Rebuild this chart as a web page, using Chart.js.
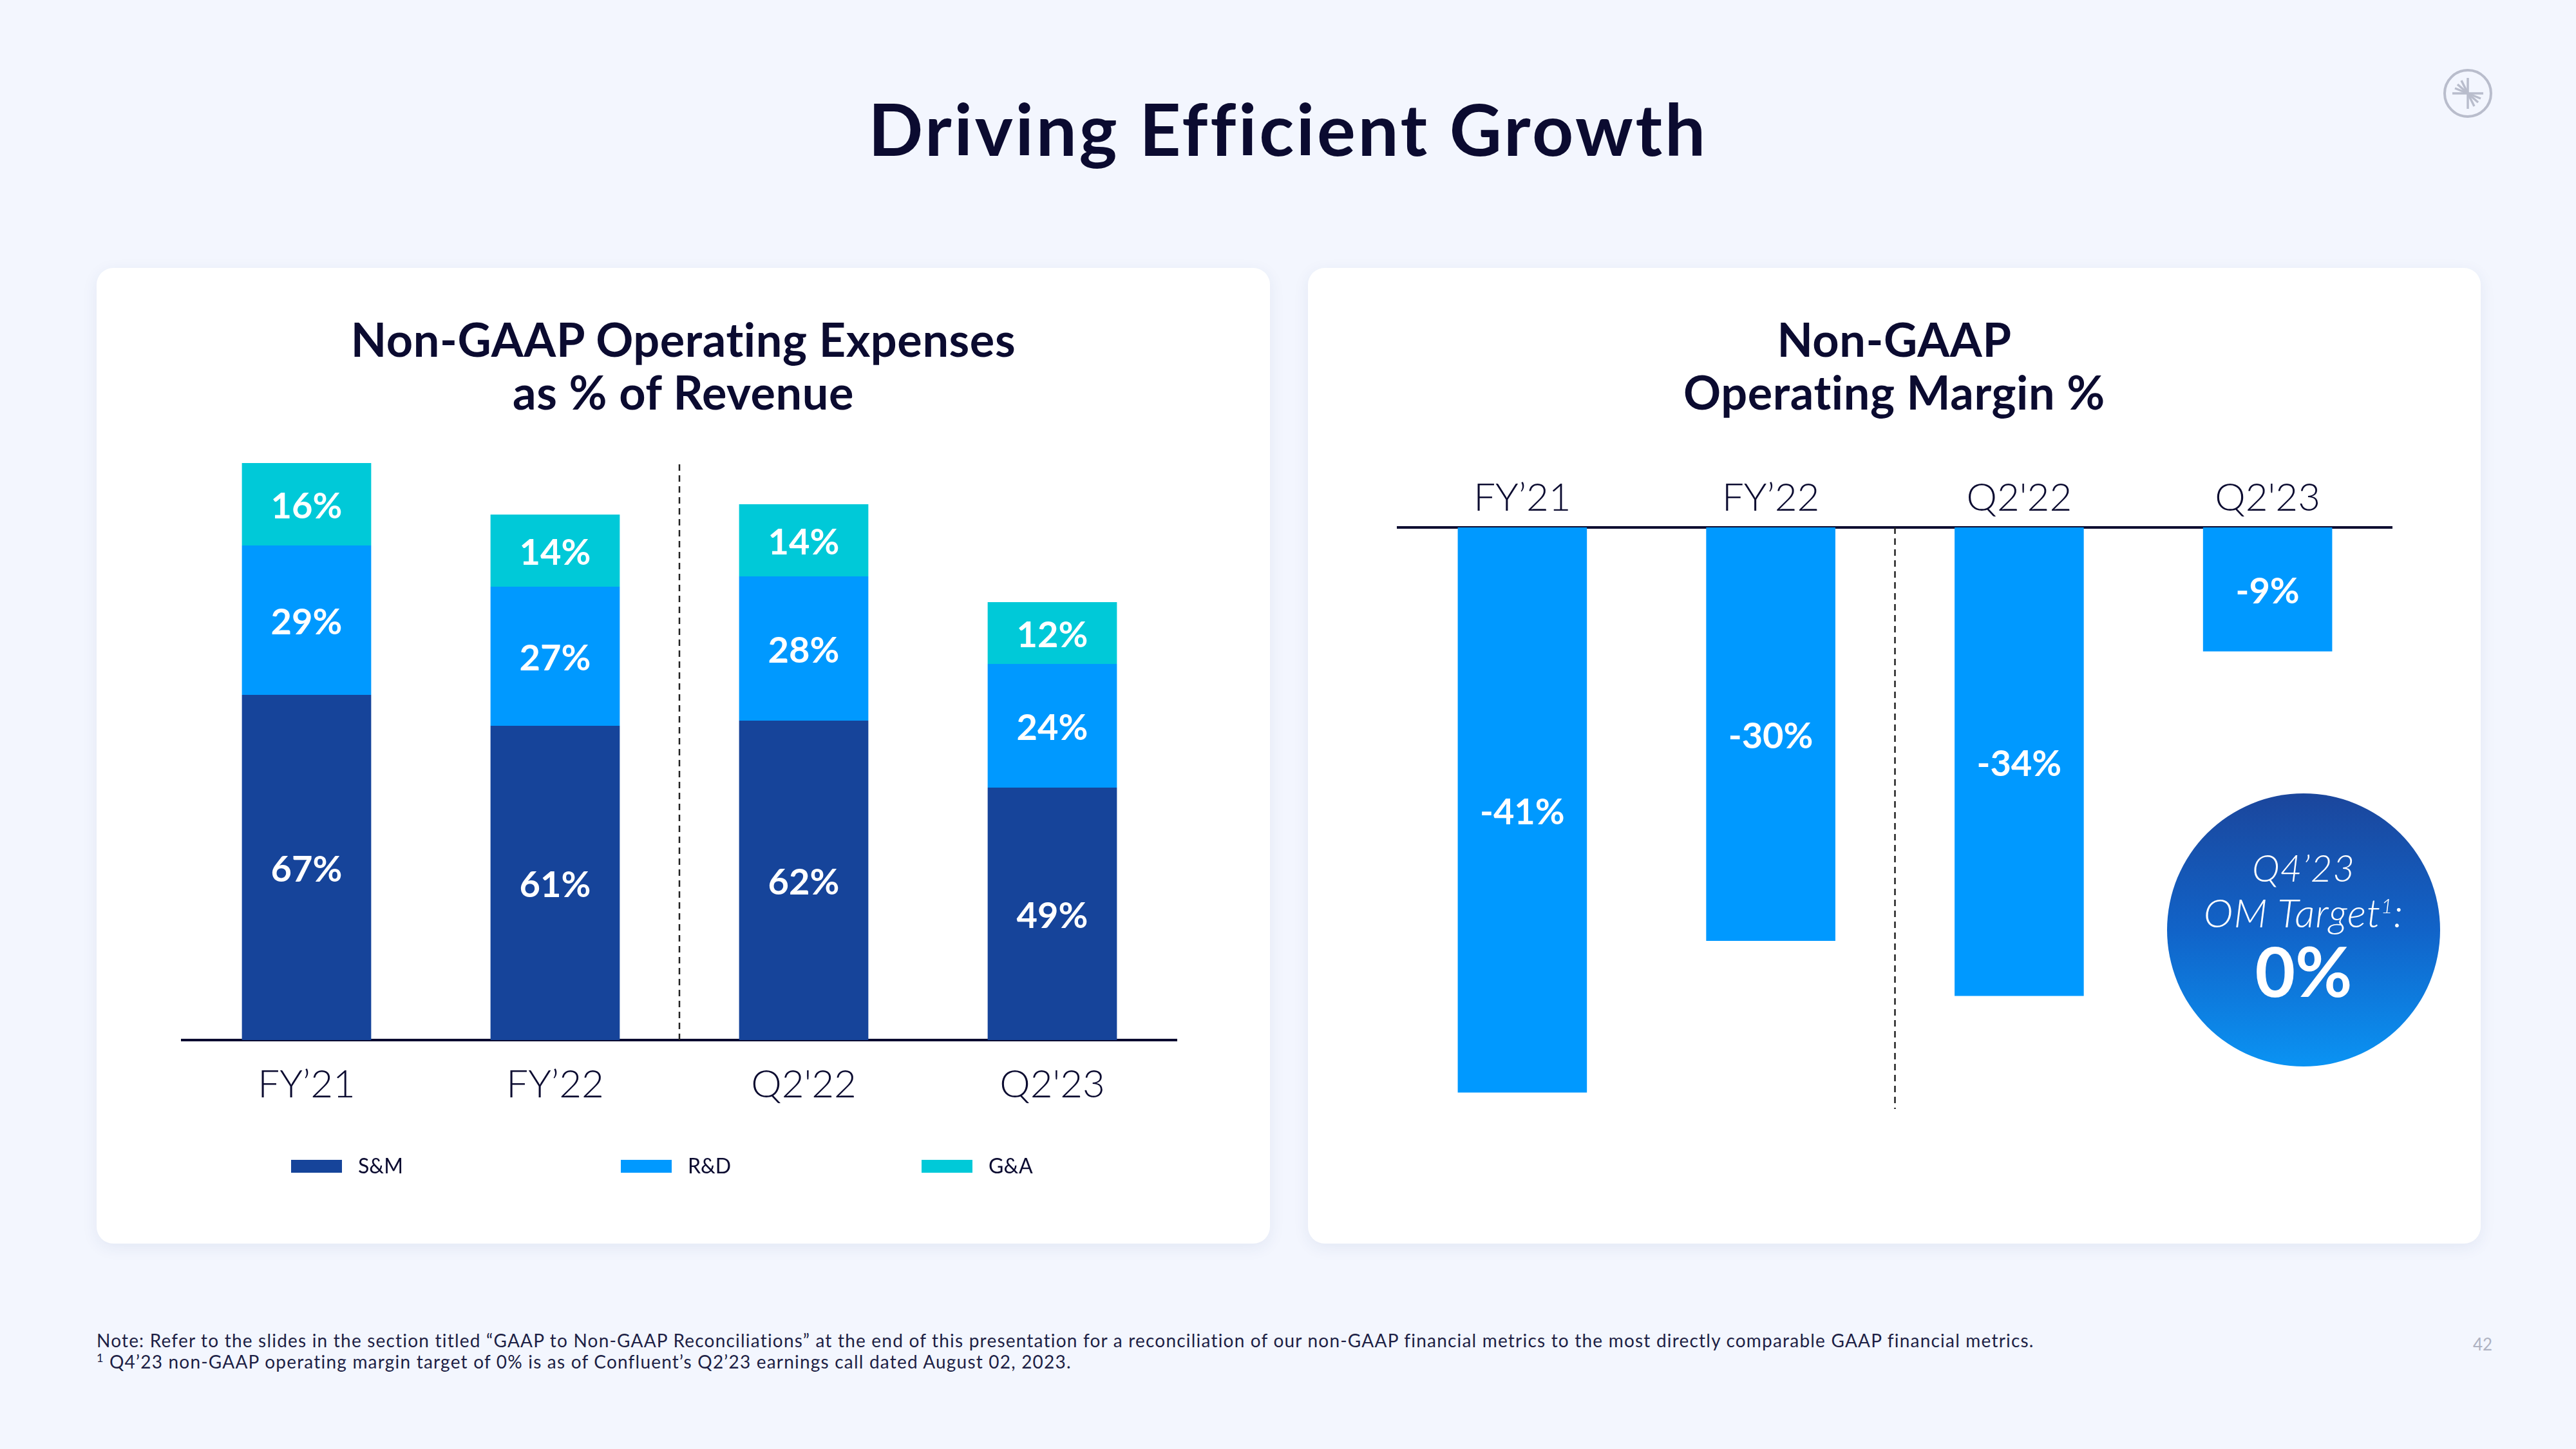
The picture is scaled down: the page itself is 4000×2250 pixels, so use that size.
<!DOCTYPE html>
<html>
<head>
<meta charset="utf-8">
<script src="https://cdn.jsdelivr.net/npm/chart.js@4.4.0/dist/chart.umd.min.js"></script>
<style>
  body { margin: 0; width: 4000px; height: 2250px; background: #f3f6fe; font-family: Lato, sans-serif; color: #0b0b30; position: relative; overflow: hidden; }
  .title { position: absolute; left: 0; top: 132px; width: 4000px; text-align: center; font-size: 112px; line-height: 134px; font-weight: 700; letter-spacing: 3.7px; }
  .card { position: absolute; top: 416px; width: 1822px; height: 1515px; background: #fff; border-radius: 26px; box-shadow: 0 6px 24px rgba(40, 60, 130, 0.08); }
  .card h2 { position: absolute; left: 0; top: 69px; width: 100%; margin: 0; text-align: center; font-size: 72px; line-height: 82px; font-weight: 700; letter-spacing: 0.6px; }
  .card canvas { position: absolute; left: 0; top: 0; }
  .target { position: absolute; left: 1334px; top: 816px; width: 424px; height: 424px; border-radius: 50%; background: linear-gradient(180deg, #1b469c 0%, #1163c8 50%, #0a93f3 100%); color: #fff; }
  .target div { position: absolute; left: 0; width: 100%; text-align: center; }
  .target .t1 { top: 81px; font-size: 58px; line-height: 68px; font-style: italic; font-weight: 300; letter-spacing: 1px; }
  .target .t2 { top: 150px; font-size: 62px; line-height: 68px; font-style: italic; font-weight: 300; letter-spacing: 1px; }
  .target .t3 { top: 214px; font-size: 108px; line-height: 120px; font-weight: 700; }
  .target sup { font-size: 32px; line-height: 0; }
  .notes { position: absolute; left: 150px; top: 2065px; font-size: 28px; line-height: 33px; letter-spacing: 1.2px; color: #1d1f45; }
  .notes sup { font-size: 18px; line-height: 0; }
  .page { position: absolute; left: 3840px; top: 2071px; font-size: 26px; line-height: 32px; color: #aeb2c2; }
  .logo { position: absolute; left: 3790px; top: 103px; }
</style>
</head>
<body>
<div class="title">Driving Efficient Growth</div>
<svg class="logo" width="84" height="84" viewBox="0 0 84 84">
  <circle cx="42" cy="42" r="36" fill="none" stroke="#b9bdcc" stroke-width="4"/>
  <g stroke="#b9bdcc" stroke-width="3.5">
    <line x1="42" y1="18" x2="42" y2="66"/>
    <line x1="18" y1="42" x2="66" y2="42"/>
    <line x1="42" y1="42" x2="26" y2="28"/>
    <line x1="42" y1="42" x2="32" y2="22"/>
    <line x1="42" y1="42" x2="22" y2="34"/>
    <line x1="42" y1="42" x2="58" y2="56"/>
    <line x1="42" y1="42" x2="52" y2="62"/>
    <line x1="42" y1="42" x2="62" y2="50"/>
  </g>
</svg>

<div class="card" style="left:150px">
  <h2>Non-GAAP Operating Expenses<br>as % of Revenue</h2>
  <canvas id="opex" width="1822" height="1515"></canvas>
</div>

<div class="card" style="left:2031px; width:1821px">
  <h2>Non-GAAP<br>Operating Margin %</h2>
  <canvas id="margin" width="1821" height="1515"></canvas>
  <div class="target">
    <div class="t1">Q4’23</div>
    <div class="t2">OM Target<sup>1</sup>:</div>
    <div class="t3">0%</div>
  </div>
</div>

<div class="notes">
  Note: Refer to the slides in the section titled “GAAP to Non-GAAP Reconciliations” at the end of this presentation for a reconciliation of our non-GAAP financial metrics to the most directly comparable GAAP financial metrics.<br>
  <sup>1</sup> Q4’23 non-GAAP operating margin target of 0% is as of Confluent’s Q2’23 earnings call dated August 02, 2023.
</div>
<div class="page">42</div>

<script>
// chart data
const categories = ['FY’21', 'FY’22', "Q2'22", "Q2'23"];
const seriesNames = ['S&M', 'R&D', 'G&A'];
const smValues = [67, 61, 62, 49];
const rdValues = [29, 27, 28, 24];
const gaValues = [16, 14, 14, 12];
const marginValues = [-41, -30, -34, -9];

const navy = '#0b0b30';
const colors = ['#16449a', '#0099ff', '#00c9d8'];

Chart.defaults.font.family = 'Lato';

// white % labels in the middle of each bar segment
const barLabels = {
    id: 'barLabels',
    afterDatasetsDraw(chart) {
        const ctx = chart.ctx;
        ctx.save();
        ctx.fillStyle = '#fff';
        ctx.font = 'bold 56px Lato';
        ctx.textAlign = 'center';
        ctx.textBaseline = 'middle';
        chart.data.datasets.forEach((ds, i) => {
            chart.getDatasetMeta(i).data.forEach((bar, j) => {
                const p = bar.getProps(['x', 'y', 'base'], true);
                ctx.fillText(ds.data[j] + '%', p.x, (p.y + p.base) / 2 + 4);
            });
        });
        ctx.restore();
    }
};

// dashed separator between the fiscal years and the quarters
const divider = {
    id: 'divider',
    afterDatasetsDraw(chart, args, opts) {
        const xs = chart.scales.x, ys = chart.scales.y;
        const x = (xs.getPixelForValue(1) + xs.getPixelForValue(2)) / 2;
        const ctx = chart.ctx;
        ctx.save();
        ctx.strokeStyle = '#222';
        ctx.lineWidth = 2.5;
        ctx.setLineDash([10, 7]);
        ctx.beginPath();
        ctx.moveTo(x, ys.getPixelForValue(opts.from));
        ctx.lineTo(x, ys.getPixelForValue(opts.to));
        ctx.stroke();
        ctx.restore();
    }
};

// legend row under the stacked chart
const legendRow = {
    id: 'legendRow',
    afterDraw(chart, args, opts) {
        if (!opts.xs) return;
        const ctx = chart.ctx;
        ctx.save();
        ctx.font = '32px Lato';
        ctx.textBaseline = 'middle';
        chart.data.datasets.forEach((ds, i) => {
            const x = opts.xs[i];
            ctx.fillStyle = ds.backgroundColor;
            ctx.fillRect(x, opts.y - 10, 79, 20);
            ctx.fillStyle = navy;
            ctx.fillText(ds.label, x + 104, opts.y + 1);
        });
        ctx.restore();
    }
};

new Chart(document.getElementById('opex'), {
    type: 'bar',
    data: {
        labels: categories,
        datasets: [
            { label: seriesNames[0], data: smValues, backgroundColor: colors[0] },
            { label: seriesNames[1], data: rdValues, backgroundColor: colors[1] },
            { label: seriesNames[2], data: gaValues, backgroundColor: colors[2] }
        ]
    },
    options: {
        responsive: false,
        animation: false,
        devicePixelRatio: 1,
        layout: { padding: { left: 133, right: 145, top: 239, bottom: 0 } },
        datasets: { bar: { barPercentage: 0.52, categoryPercentage: 1 } },
        plugins: {
            legend: { display: false },
            tooltip: { enabled: false },
            divider: { from: 0, to: 112 },
            legendRow: { xs: [302, 814, 1281], y: 1395 }
        },
        scales: {
            x: {
                stacked: true,
                grid: { display: false, drawTicks: false },
                border: { display: true, color: navy, width: 4 },
                ticks: { color: navy, font: { size: 60, weight: 300 }, padding: 34 },
                afterFit(scale) { scale.height = 316; }
            },
            y: { stacked: true, display: false, min: 0, max: 120 }
        }
    },
    plugins: [barLabels, divider, legendRow]
});

new Chart(document.getElementById('margin'), {
    type: 'bar',
    data: {
        labels: categories,
        datasets: [
            { label: 'Non-GAAP Operating Margin %', data: marginValues, backgroundColor: colors[1] }
        ]
    },
    options: {
        responsive: false,
        animation: false,
        devicePixelRatio: 1,
        layout: { padding: { left: 140, right: 138, top: 0, bottom: 149 } },
        datasets: { bar: { barPercentage: 0.52, categoryPercentage: 1 } },
        plugins: {
            legend: { display: false },
            tooltip: { enabled: false },
            divider: { from: 0, to: -42.2 }
        },
        scales: {
            x: {
                position: 'top',
                grid: { display: false, drawTicks: false },
                border: { display: true, color: navy, width: 4 },
                ticks: { color: navy, font: { size: 60, weight: 300 }, padding: 9 },
                afterFit(scale) { scale.height = 403; }
            },
            y: { display: false, min: -45, max: 0 }
        }
    },
    plugins: [barLabels, divider]
});
</script>
</body>
</html>
